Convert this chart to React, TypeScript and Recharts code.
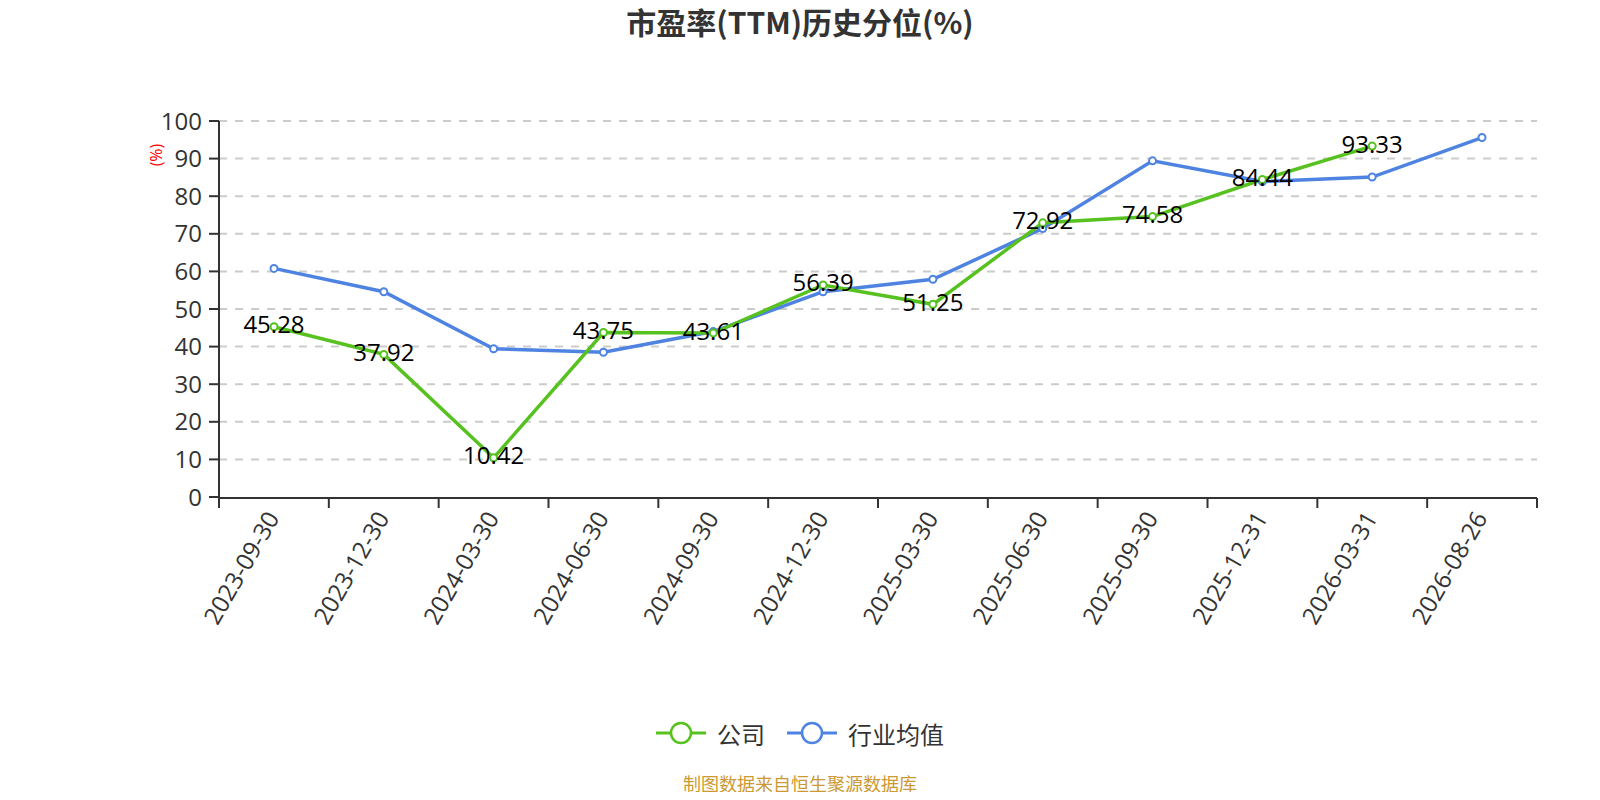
import React from 'react';
import { LineChart, Line, XAxis, YAxis, CartesianGrid, LabelList } from 'recharts';

const categories = ['2023-09-30', '2023-12-30', '2024-03-30', '2024-06-30', '2024-09-30', '2024-12-30', '2025-03-30', '2025-06-30', '2025-09-30', '2025-12-31', '2026-03-31', '2026-08-26'];
const companyValues: (number | null)[] = [45.28, 37.92, 10.42, 43.75, 43.61, 56.39, 51.25, 72.92, 74.58, 84.44, 93.33, null];
const industryValues: number[] = [60.8, 54.6, 39.4, 38.5, 44.0, 54.6, 57.9, 71.4, 89.4, 83.9, 85.1, 95.6];
const yTicks = [0, 10, 20, 30, 40, 50, 60, 70, 80, 90, 100];
const gridTicks = [10, 20, 30, 40, 50, 60, 70, 80, 90, 100];
const boundaryTicks = [0, 1, 2, 3, 4, 5, 6, 7, 8, 9, 10, 11, 12];

const GREEN = '#56c11f';
const BLUE = '#4e83e2';
const FONT = "'Open Sans','Noto Sans CJK SC',sans-serif";
const CJK = "'Noto Sans CJK SC','Open Sans',sans-serif";

const data = categories.map((date, i) => ({
  date,
  company: companyValues[i],
  industry: industryValues[i],
}));

const XTick = (props: any) => {
  const { x, y, payload } = props;
  const ax = x - 2;
  const ay = y + 16;
  return (
    <text
      x={ax}
      y={ay}
      transform={`rotate(-60 ${ax} ${ay})`}
      textAnchor="end"
      dominantBaseline="central"
      fontSize={24}
      fill="#333"
      fontFamily={FONT}
    >
      {payload.value}
    </text>
  );
};

const PointLabel = (props: any) => {
  const { x, y, value } = props;
  if (value === null || value === undefined) return null;
  return (
    <text x={x} y={y - 3} textAnchor="middle" dominantBaseline="central" fontSize={24} fill="#000" fontFamily={FONT}>
      {Number(value).toFixed(2)}
    </text>
  );
};

const LegendIcon = ({ color }: { color: string }) => (
  <svg width={50} height={24} style={{ display: 'block' }}>
    <line x1={0} y1={12} x2={50} y2={12} stroke={color} strokeWidth={3} />
    <circle cx={25} cy={12} r={10} fill="#fff" stroke={color} strokeWidth={2.5} />
  </svg>
);

export default function App() {
  return (
    <div style={{ position: 'relative', width: 1584, height: 784, fontFamily: FONT, background: '#fff' }}>
      <div
        style={{
          position: 'absolute',
          left: 0,
          width: 1584,
          top: -3,
          lineHeight: '32px',
          textAlign: 'center',
          fontSize: 30,
          fontWeight: 'bold',
          color: '#333',
          fontFamily: CJK,
        }}
      >
        市盈率(TTM)历史分位(%)
      </div>
      <div
        style={{
          position: 'absolute',
          left: 148 - 20,
          top: 147 - 10,
          width: 40,
          height: 20,
          lineHeight: '20px',
          textAlign: 'center',
          fontSize: 16,
          color: '#ff0000',
          transform: 'rotate(-90deg)',
        }}
      >
        (%)
      </div>
      <LineChart width={1584} height={784} data={data} margin={{ top: 113, right: 55, bottom: 145, left: 0 }}>
        <CartesianGrid
          horizontal
          vertical={false}
          horizontalValues={gridTicks}
          stroke="#cccccc"
          strokeWidth={2}
          strokeDasharray="8 8"
        />
        <XAxis
          dataKey="date"
          type="category"
          padding={{ left: 55, right: 55 }}
          height={1}
          axisLine={false}
          tickLine={false}
          tickSize={0}
          tickMargin={0}
          interval={0}
          tick={<XTick />}
        />
        <XAxis
          xAxisId="b"
          type="number"
          dataKey="none"
          domain={[0, 12]}
          allowDataOverflow
          ticks={boundaryTicks}
          interval={0}
          tickFormatter={() => ''}
          height={149}
          tickSize={10}
          axisLine={{ stroke: '#333', strokeWidth: 2 }}
          tickLine={{ stroke: '#333', strokeWidth: 2 }}
        />
        <YAxis
          domain={[0, 100]}
          ticks={yTicks}
          interval={0}
          width={211}
          tickSize={10}
          tickMargin={7}
          axisLine={{ stroke: '#333', strokeWidth: 2 }}
          tickLine={{ stroke: '#333', strokeWidth: 2 }}
          tick={{ fontSize: 24, fill: '#333', fontFamily: FONT }}
        />
        <Line
          type="linear"
          dataKey="industry"
          stroke={BLUE}
          strokeWidth={3.5}
          dot={{ r: 3.5, fill: '#fff', stroke: BLUE, strokeWidth: 2 }}
          activeDot={false}
          isAnimationActive={false}
        />
        <Line
          type="linear"
          dataKey="company"
          stroke={GREEN}
          strokeWidth={3.5}
          dot={{ r: 3.5, fill: '#fff', stroke: GREEN, strokeWidth: 2 }}
          activeDot={false}
          isAnimationActive={false}
        >
          <LabelList dataKey="company" content={<PointLabel />} />
        </Line>
      </LineChart>
      <div
        style={{
          position: 'absolute',
          top: 725 - 15,
          left: 0,
          width: 1584,
          height: 30,
          display: 'flex',
          justifyContent: 'center',
          alignItems: 'center',
          fontSize: 24,
          color: '#333',
          fontFamily: CJK,
        }}
      >
        <LegendIcon color={GREEN} />
        <span style={{ marginLeft: 11, marginRight: 22 }}>公司</span>
        <LegendIcon color={BLUE} />
        <span style={{ marginLeft: 11 }}>行业均值</span>
      </div>
      <div
        style={{
          position: 'absolute',
          top: 766,
          left: 0,
          width: 1584,
          lineHeight: '18px',
          textAlign: 'center',
          fontSize: 18,
          color: '#cc9933',
          fontFamily: CJK,
        }}
      >
        制图数据来自恒生聚源数据库
      </div>
    </div>
  );
}
